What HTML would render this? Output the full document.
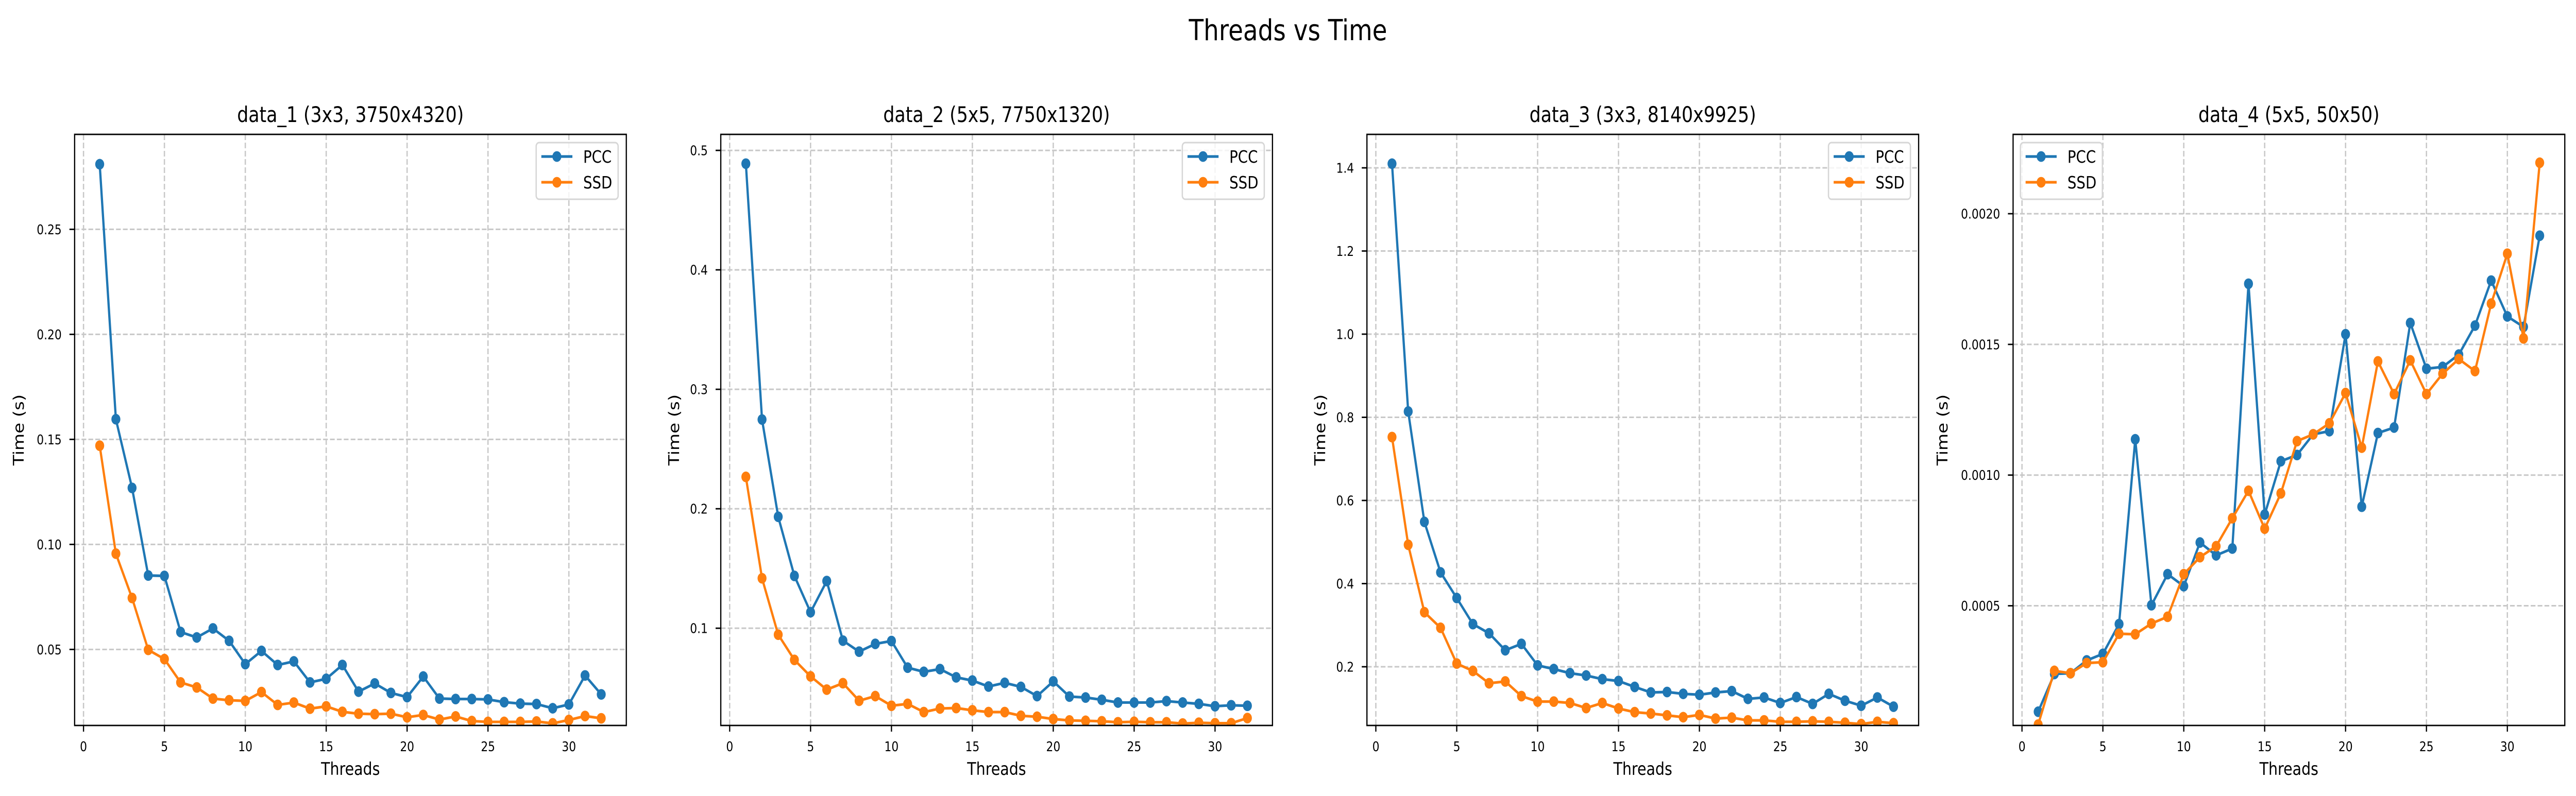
<!DOCTYPE html>
<html>
<head>
<meta charset="utf-8">
<style>
  html, body { margin:0; padding:0; background:#fff; overflow:hidden; }
  svg { display:block; width:100vw; height:100vh; font-family:"DejaVu Sans","Liberation Sans",sans-serif; }
</style>
</head>
<body>
<svg id="fig" viewBox="0 0 5972 1546" preserveAspectRatio="none" xmlns="http://www.w3.org/2000/svg">
  <rect x="0" y="0" width="5972" height="1546" fill="#ffffff"/>
  <text x="2986" y="78" font-size="56" text-anchor="middle" fill="#000">Threads vs Time</text>
</svg>
<script>
// ---- data ----
const threads = [1,2,3,4,5,6,7,8,9,10,11,12,13,14,15,16,17,18,19,20,21,22,23,24,25,26,27,28,29,30,31,32];
const panelTitles = ["data_1 (3x3, 3750x4320)", "data_2 (5x5, 7750x1320)", "data_3 (3x3, 8140x9925)", "data_4 (5x5, 50x50)"];
const seriesNames = ["PCC", "SSD"];

const pcc1 = [0.281,0.1596,0.1269,0.0852,0.085,0.0583,0.0557,0.060,0.0541,0.043,0.0493,0.0426,0.0443,0.0343,0.036,0.0426,0.0299,0.0338,0.0293,0.0273,0.0371,0.0266,0.0264,0.0264,0.0262,0.0249,0.0242,0.024,0.022,0.0238,0.0376,0.0286];
const ssd1 = [0.147,0.0956,0.0745,0.0498,0.0454,0.0343,0.0319,0.0266,0.0258,0.0255,0.0297,0.0236,0.0247,0.0218,0.0229,0.0203,0.0194,0.0192,0.0194,0.0177,0.0188,0.0166,0.0181,0.0159,0.0155,0.0155,0.0155,0.0157,0.0148,0.0164,0.0183,0.0172];

const pcc2 = [0.4889,0.2747,0.1933,0.1438,0.1134,0.1395,0.0896,0.0804,0.0869,0.0893,0.067,0.0635,0.0658,0.0589,0.0562,0.0512,0.0543,0.0509,0.0432,0.0555,0.0428,0.042,0.0401,0.0378,0.0378,0.0378,0.039,0.0378,0.0367,0.0347,0.0355,0.0351];
const ssd2 = [0.2267,0.1418,0.0946,0.0735,0.0597,0.0486,0.054,0.0393,0.0432,0.0351,0.0367,0.0298,0.0328,0.0332,0.0313,0.0298,0.0298,0.0267,0.0259,0.024,0.0228,0.0225,0.0221,0.0213,0.0217,0.0213,0.0213,0.0202,0.0209,0.0205,0.0205,0.0248];

const pcc3 = [1.41,0.814,0.5485,0.427,0.3654,0.3026,0.2805,0.2397,0.2551,0.2033,0.1945,0.1846,0.179,0.1702,0.1658,0.1515,0.1382,0.1393,0.1349,0.1327,0.1382,0.1415,0.1228,0.1261,0.1129,0.1272,0.1107,0.1349,0.1184,0.1063,0.1261,0.104];
const ssd3 = [0.7525,0.4934,0.3312,0.2937,0.2077,0.19,0.1603,0.1647,0.1294,0.1162,0.1162,0.1129,0.1007,0.1129,0.0996,0.0908,0.0875,0.0831,0.0787,0.0842,0.0754,0.0776,0.071,0.071,0.0676,0.0676,0.0688,0.0676,0.0654,0.0621,0.0676,0.0643];

const pcc4 = [0.0000947,0.000239,0.000242,0.000291,0.000316,0.00043,0.001137,0.000502,0.000621,0.000575,0.000742,0.000693,0.000719,0.001732,0.000849,0.001053,0.001077,0.001156,0.001168,0.001539,0.000879,0.001161,0.001182,0.001582,0.001407,0.001414,0.001461,0.001572,0.001744,0.001607,0.001567,0.001916];
const ssd4 = [0.0000456,0.000251,0.000242,0.000281,0.000284,0.000393,0.000391,0.000432,0.000458,0.000621,0.000686,0.000728,0.000835,0.00094,0.000795,0.00093,0.00113,0.001156,0.001198,0.001314,0.001105,0.001435,0.00131,0.001439,0.00131,0.001388,0.001444,0.001398,0.001656,0.001847,0.001523,0.002195];

const xTicks = [0,5,10,15,20,25,30];
const yTicks1 = [0.05,0.10,0.15,0.20,0.25];
const yTickLabels1 = ["0.05","0.10","0.15","0.20","0.25"];
const yTicks2 = [0.1,0.2,0.3,0.4,0.5];
const yTickLabels2 = ["0.1","0.2","0.3","0.4","0.5"];
const yTicks3 = [0.2,0.4,0.6,0.8,1.0,1.2,1.4];
const yTickLabels3 = ["0.2","0.4","0.6","0.8","1.0","1.2","1.4"];
const yTicks4 = [0.0005,0.0010,0.0015,0.0020];
const yTickLabels4 = ["0.0005","0.0010","0.0015","0.0020"];

// ---- layout config ----
const NS = "http://www.w3.org/2000/svg";
const svg = document.getElementById("fig");
const colors = ["#1f77b4", "#ff7f0e"];
const panelLefts = [173, 1671, 3169, 4667];
const panelW = 1279, topY = 261, bottomY = 1409;
const xMin = -0.55, xMax = 33.55;
const yDomains = [[0.0138,0.2952],[0.0186,0.5134],[0.0588,1.4805],[0.0000421,0.0023035]];
const yLabelOffsets = [118, 97, 97, 152];
const legendLeftSide = [false,false,false,true];

const panels = [
  {pcc:pcc1, ssd:ssd1, ticks:yTicks1, labels:yTickLabels1},
  {pcc:pcc2, ssd:ssd2, ticks:yTicks2, labels:yTickLabels2},
  {pcc:pcc3, ssd:ssd3, ticks:yTicks3, labels:yTickLabels3},
  {pcc:pcc4, ssd:ssd4, ticks:yTicks4, labels:yTickLabels4}
];

function mk(tag, attrs, parent) {
  const e = document.createElementNS(NS, tag);
  for (const k in attrs) e.setAttribute(k, attrs[k]);
  (parent || svg).appendChild(e);
  return e;
}

panels.forEach((p, i) => {
  const L = panelLefts[i], R = L + panelW;
  const y0 = yDomains[i][0], y1 = yDomains[i][1];
  const xs = v => L + (v - xMin) / (xMax - xMin) * panelW;
  const ys = v => bottomY - (v - y0) / (y1 - y0) * (bottomY - topY);

  const g = mk("g", {});
  
  

  const clipId = "clip" + i;
  const cp = mk("clipPath", {id: clipId}, g);
  mk("rect", {x: L, y: topY, width: panelW, height: bottomY - topY}, cp);

  xTicks.forEach(t => {
    const l = mk("line", {x1: xs(t), x2: xs(t), y1: topY, y2: bottomY, stroke: "#c8c8c8", "stroke-width": 3, "stroke-dasharray": "11,5"}, g);
    
    
  });
  p.ticks.forEach(t => {
    const l = mk("line", {x1: L, x2: R, y1: ys(t), y2: ys(t), stroke: "#c8c8c8", "stroke-width": 3, "stroke-dasharray": "11,5"}, g);
    
    
  });

  [p.pcc, p.ssd].forEach((vals, si) => {
    const sg = mk("g", {"clip-path": "url(#" + clipId + ")"}, g);
    
    
    const pts = vals.map((v, k) => xs(threads[k]) + "," + ys(v)).join(" ");
    const pl = mk("polyline", {points: pts, fill: "none", stroke: colors[si], "stroke-width": 5.2, "stroke-linejoin": "round"}, sg);
    
    
    vals.forEach((v, k) => {
      const c = mk("circle", {cx: xs(threads[k]), cy: ys(v), r: 10.4, fill: colors[si]}, sg);
      
      
    });
  });

  const fr = mk("rect", {x: L, y: topY, width: panelW, height: bottomY - topY, fill: "none", stroke: "#000", "stroke-width": 2.8}, g);
  
  

  xTicks.forEach(t => {
    const tl = mk("line", {x1: xs(t), x2: xs(t), y1: bottomY, y2: bottomY + 12, stroke: "#000", "stroke-width": 2.8}, g);
    
    
    const tx = mk("text", {x: xs(t), y: 1459, "font-size": 26, "text-anchor": "middle", fill: "#000"}, g);
    tx.textContent = String(t);
    
    
  });
  p.ticks.forEach((t, k) => {
    const tl = mk("line", {x1: L - 12, x2: L, y1: ys(t), y2: ys(t), stroke: "#000", "stroke-width": 2.8}, g);
    
    
    const tx = mk("text", {x: L - 30, y: ys(t) + 9.5, "font-size": 26, "text-anchor": "end", fill: "#000"}, g);
    tx.textContent = p.labels[k];
    
    
  });

  const ti = mk("text", {x: (L + R) / 2, y: 237, "font-size": 41.5, "text-anchor": "middle", fill: "#000"}, g);
  ti.textContent = panelTitles[i];
  
  

  const xl = mk("text", {x: (L + R) / 2, y: 1505, "font-size": 34, "text-anchor": "middle", fill: "#000"}, g);
  xl.textContent = "Threads";
  
  

  const yx = L - yLabelOffsets[i], yy = (topY + bottomY) / 2;
  const yl = mk("text", {x: yx, y: yy, "font-size": 34, "text-anchor": "middle", fill: "#000", transform: "rotate(-90 " + yx + " " + yy + ")"}, g);
  yl.textContent = "Time (s)";
  
  

  const lw = 190, lh = 110;
  const lx = legendLeftSide[i] ? L + 17 : R - 19 - lw;
  const ly = topY + 16;
  const lg = mk("g", {}, g);
  
  
  const lb = mk("rect", {x: lx, y: ly, width: lw, height: lh, rx: 7, fill: "#ffffff", "fill-opacity": 0.8, stroke: "#d6d6d6", "stroke-width": 3}, lg);
  
  
  seriesNames.forEach((nm, si) => {
    const cy = ly + 27 + si * 50;
    const eg = mk("g", {}, lg);
    
    
    mk("line", {x1: lx + 12, x2: lx + 84, y1: cy, y2: cy, stroke: colors[si], "stroke-width": 5.2}, eg);
    mk("circle", {cx: lx + 48, cy: cy, r: 10.4, fill: colors[si]}, eg);
    const t = mk("text", {x: lx + 109, y: cy + 12, "font-size": 33, fill: "#000"}, eg);
    t.textContent = nm;
  });
});
</script>
</body>
</html>
